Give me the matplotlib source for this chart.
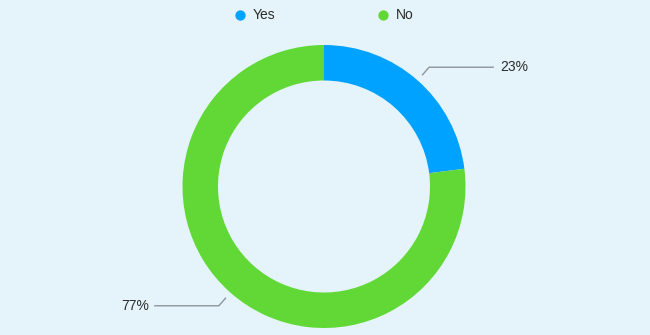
import numpy as np
import matplotlib
matplotlib.use("Agg")
import matplotlib.pyplot as plt

categories = ["Yes", "No"]
values = [23, 77]
labels = ["23%", "77%"]
colors = ["#00A2FF", "#61D836"]

BG = "#E5F4FA"
TXT = "#2B2B2B"
plt.rcParams['font.family'] = ['Liberation Sans', 'DejaVu Sans']

W, H = 650, 335
fig = plt.figure(figsize=(W / 100, H / 100), dpi=100, facecolor=BG)
ax = fig.add_axes([0, 0, 1, 1])
ax.set_facecolor(BG)
ax.set_xlim(0, W)
ax.set_ylim(0, H)
ax.set_aspect('equal')
ax.axis('off')

cx, cy = 324, H - 186.5
R = 141.5
width = 35.5
wedges, _ = ax.pie(values, colors=colors, startangle=90, counterclock=False,
                   radius=R, center=(cx, cy), frame=True,
                   wedgeprops=dict(width=width, linewidth=0))
ax.set_xlim(0, W)
ax.set_ylim(0, H)
ax.axis('off')

# leader lines and labels
total = sum(values)
cum = 0
for v, lab in zip(values, labels):
    mid = (cum + v / 2) / total * 2 * np.pi
    cum += v
    dx, dy = np.sin(mid), np.cos(mid)
    x0, y0 = cx + dx * 149, cy + dy * 149
    x1, y1 = cx + dx * 159, cy + dy * 159
    if dx >= 0:
        x2 = x1 + 64
        ax.plot([x0, x1, x2], [y0, y1, y1], color="#8E9499", lw=1)
        ax.text(x2 + 7, y1, lab, ha='left', va='center', fontsize=10, color=TXT)
    else:
        x2 = x1 - 64
        ax.plot([x0, x1, x2], [y0, y1, y1], color="#8E9499", lw=1)
        ax.text(x2 - 6, y1, lab, ha='right', va='center', fontsize=10, color=TXT)

# legend
leg_x = [240, 383]
for lx, c, name in zip(leg_x, colors, categories):
    ax.scatter([lx], [H - 15], s=55, color=c, linewidths=0)
    ax.text(lx + 13, H - 15, name, ha='left', va='center', fontsize=10, color=TXT)

fig.savefig("out.png", dpi=100, facecolor=BG)
